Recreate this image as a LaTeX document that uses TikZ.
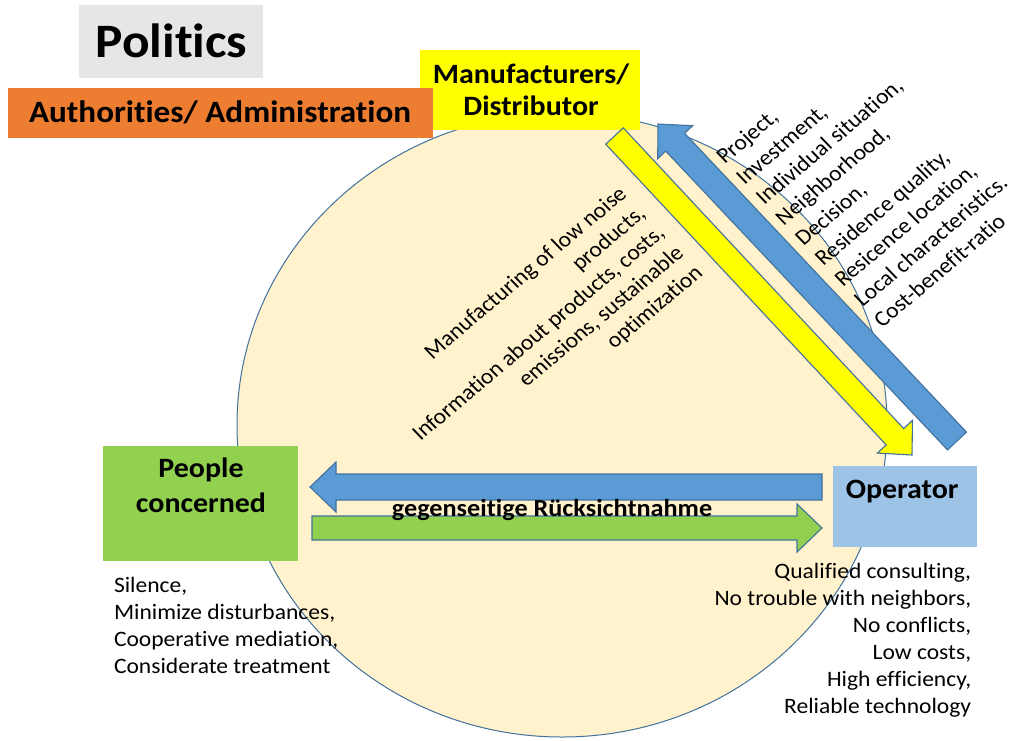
\documentclass[tikz,border=0pt]{standalone}
\usepackage{fontspec}
\setmainfont{Carlito}[Ligatures={NoCommon}]
\usetikzlibrary{calc}

\definecolor{polgrey}{HTML}{E7E6E6}
\definecolor{authorange}{HTML}{ED7D31}
\definecolor{mfryellow}{HTML}{FFFF00}
\definecolor{peoplegreen}{HTML}{92D050}
\definecolor{opblue}{HTML}{9DC3E6}
\definecolor{fieldfill}{HTML}{FFF2CC}
\definecolor{edgeblue}{HTML}{41719C}
\definecolor{arrowblue}{HTML}{5B9BD5}

% block arrow: #1 style, #2 name of head base, #3 tail, #4 tip,
% #5 half shaft width, #6 half head width, #7 head length
\newcommand{\blockarrow}[7]{%
  \coordinate (#2) at ($(#4)!#7!(#3)$);
  \draw[#1] ($(#3)!#5!90:(#4)$) -- ($(#2)!#5!90:(#4)$) -- ($(#2)!#6!90:(#4)$)
    -- (#4) -- ($(#2)!#6!-90:(#4)$) -- ($(#2)!#5!-90:(#4)$)
    -- ($(#3)!#5!-90:(#4)$) -- cycle;}

\begin{document}
\begin{tikzpicture}[x=1pt,y=-1pt,
  box/.style={draw=none, inner sep=0pt, outer sep=0pt},
  flow/.style={draw=edgeblue, line width=1.1pt, line join=miter},
  txt/.style={inner sep=0pt, outer sep=0pt, text=black},
  headfont/.style={font=\bfseries\fontsize{#1}{#1}\selectfont},
  notefont/.style={font=\fontsize{22}{#1}\selectfont}]

\useasboundingbox (0,0) rectangle (1010,740);
\fill[white] (0,0) rectangle (1010,740);

% shared field behind the actors
\draw[fill=fieldfill, draw=edgeblue, line width=1pt]
  (562,425) ellipse [x radius=325pt, y radius=312pt];

% actor boxes
\node[box, fill=polgrey, minimum width=184pt, minimum height=73pt] (politics) at (171,41.5) {};
\node[box, fill=mfryellow, minimum width=220pt, minimum height=80pt] (mfr) at (530,90) {};
\node[box, fill=authorange, minimum width=425pt, minimum height=50pt] (auth) at (220.5,113) {};
\node[box, fill=peoplegreen, minimum width=195pt, minimum height=115pt] (people) at (200.5,503.5) {};
\node[box, fill=opblue, minimum width=144pt, minimum height=81pt] (operator) at (905,506.5) {};

% arrow end points
\coordinate (mfrOut) at (614.5,136);
\coordinate (opIn) at (912,455);
\coordinate (opOut) at (957,441);
\coordinate (mfrIn) at (658,124);
\coordinate (opLeft) at (822,487);
\coordinate (peopleIn) at (310,487);
\coordinate (peopleOut) at (312,528);
\coordinate (opRight) at (822,528);

\blockarrow{flow, fill=mfryellow}{mfrHead}{mfrOut}{opIn}{12pt}{24pt}{25pt}
\blockarrow{flow, fill=arrowblue}{opHead}{opOut}{mfrIn}{13pt}{24pt}{25pt}
\blockarrow{flow, fill=arrowblue}{peopleHead}{opLeft}{peopleIn}{13pt}{25pt}{26pt}
\blockarrow{flow, fill=peoplegreen}{opRightHead}{peopleOut}{opRight}{12pt}{24pt}{25pt}

% text anchor points
\coordinate (politicsBase) at (171.5,57);
\coordinate (authBase) at (220,122);
\coordinate (mfrTop) at (531,60.6);
\coordinate (peopleTop) at (201,452.5);
\coordinate (operatorBase) at (902,498);
\coordinate (mutualBase) at (552,516);
\coordinate (peopleNotesCorner) at (114,573.1);
\coordinate (opNotesCorner) at (971,559.1);
\coordinate (mfrNotesCorner) at (614.5,182);
\coordinate (opFactorsCorner) at (711,150.5);

\begin{scope}[xscale=1.07, transform shape]
\node[txt, headfont=48, anchor=base] (politicsLabel) at (politicsBase) {Politics};
\node[txt, headfont=31, anchor=base] (authLabel) at (authBase) {Authorities/ Administration};
\node[txt, font=\bfseries\fontsize{28}{32}\selectfont, align=center, anchor=north] (mfrLabel) at (mfrTop)
  {\strut Manufacturers/\\Distributor};
\node[txt, font=\bfseries\fontsize{28}{35}\selectfont, align=center, anchor=north] (peopleLabel) at (peopleTop)
  {\strut People\\concerned};
\node[txt, headfont=28, anchor=base] (operatorLabel) at (operatorBase) {Operator};
\node[txt, headfont=24.5, anchor=base] (mutualLabel) at (mutualBase) {gegenseitige Rücksichtnahme};

\node[txt, notefont=27, align=left, anchor=north west] (peopleNotes) at (peopleNotesCorner)
  {\strut Silence,\\Minimize disturbances,\\Cooperative mediation,\\Considerate treatment};
\node[txt, notefont=27, align=right, anchor=north east] (opNotes) at (opNotesCorner)
  {\strut Qualified consulting,\\No trouble with neighbors,\\No conflicts,\\Low costs,\\High efficiency,\\Reliable technology};

\node[txt, notefont=26.5, align=right, anchor=north east, rotate=42] (mfrNotes) at (mfrNotesCorner)
  {\strut Manufacturing of low noise\\products,\\Information about products, costs,\\emissions, sustainable\\optimization};
\node[txt, notefont=27.5, align=left, anchor=north west, rotate=42] (opFactors) at (opFactorsCorner)
  {\strut Project,\\Investment,\\Individual situation,\\Neighborhood,\\Decision,\\Residence quality,\\Resicence location,\\Local characteristics.\\Cost-benefit-ratio};
\end{scope}
\end{tikzpicture}
\end{document}
